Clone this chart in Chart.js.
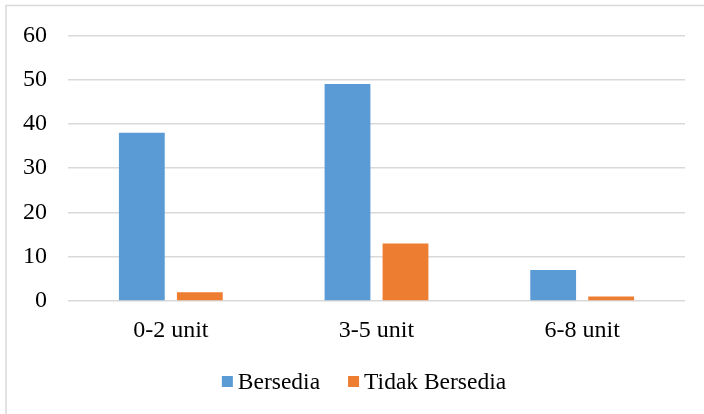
<!DOCTYPE html>
<html>
<head>
<meta charset="utf-8">
<script src="https://cdn.jsdelivr.net/npm/chart.js@4/dist/chart.umd.min.js"></script>
<style>
  html, body { margin: 0; padding: 0; background: #ffffff; }
  #wrap { position: relative; width: 704px; height: 414px; }
  canvas { display: block; }
</style>
</head>
<body>
<div id="wrap"><canvas id="chart" width="704" height="414"></canvas></div>
<script>
// Kesediaan responden menurut jumlah unit
const categories = ['0-2 unit', '3-5 unit', '6-8 unit'];
const seriesNames = ['Bersedia', 'Tidak Bersedia'];
const bersedia = [38, 49, 7];
const tidakBersedia = [2, 13, 1];
const yTicks = [0, 10, 20, 30, 40, 50, 60];

const seriesColors = ['#5B9BD5', '#ED7D31'];
const FONT = '"Liberation Serif", "Times New Roman", serif';
const textColor = '#000000';
const gridColor = '#d9d9d9';

// Frame lines along the top and left edge
const framePlugin = {
  id: 'frame',
  beforeDraw(chart) {
    const ctx = chart.ctx;
    ctx.save();
    ctx.strokeStyle = gridColor;
    ctx.lineWidth = 1.5;
    ctx.beginPath();
    ctx.moveTo(6, chart.height);
    ctx.lineTo(6, 5.5);
    ctx.lineTo(chart.width, 5.5);
    ctx.stroke();
    ctx.restore();
  }
};

// Legend row below the category labels
const legendPlugin = {
  id: 'bottomLegend',
  afterDraw(chart) {
    const ctx = chart.ctx;
    const box = 11, textGap = 5, itemGap = 28;
    ctx.save();
    ctx.font = '23.5px ' + FONT;
    ctx.textBaseline = 'middle';
    const items = chart.data.datasets.map(ds => ({
      label: ds.label,
      color: ds.backgroundColor,
      w: box + textGap + ctx.measureText(ds.label).width
    }));
    const total = items.reduce((s, it) => s + it.w, 0) + itemGap * (items.length - 1);
    let x = chart.width / 2 + 12 - total / 2;
    const yMid = 381.5;
    items.forEach(it => {
      ctx.fillStyle = it.color;
      ctx.fillRect(x, yMid - box / 2, box, box);
      ctx.fillStyle = textColor;
      ctx.fillText(it.label, x + box + textGap, yMid + 1);
      x += it.w + itemGap;
    });
    ctx.restore();
  }
};

new Chart(document.getElementById('chart'), {
  type: 'bar',
  data: {
    labels: categories,
    datasets: [
      { label: seriesNames[0], data: bersedia, backgroundColor: seriesColors[0] },
      { label: seriesNames[1], data: tidakBersedia, backgroundColor: seriesColors[1] }
    ]
  },
  options: {
    responsive: false,
    animation: false,
    devicePixelRatio: 1,
    layout: { padding: { top: 34, right: 19, bottom: 53, left: 0 } },
    datasets: {
      bar: { categoryPercentage: 0.564, barPercentage: 0.79 }
    },
    plugins: {
      legend: { display: false },
      tooltip: { enabled: false }
    },
    scales: {
      x: {
        grid: { display: false, drawTicks: false },
        border: { display: false },
        ticks: { color: textColor, font: { family: FONT, size: 24 }, padding: 15 },
        afterFit(scale) { scale.height = 60; }
      },
      y: {
        min: 0,
        max: 60,
        afterBuildTicks(scale) { scale.ticks = yTicks.map(v => ({ value: v })); },
        grid: { color: gridColor, lineWidth: 1.5, drawTicks: false },
        border: { display: false },
        ticks: { color: textColor, font: { family: FONT, size: 24 }, padding: 21 },
        afterFit(scale) { scale.width = 68; }
      }
    }
  },
  plugins: [framePlugin, legendPlugin]
});
</script>
</body>
</html>
